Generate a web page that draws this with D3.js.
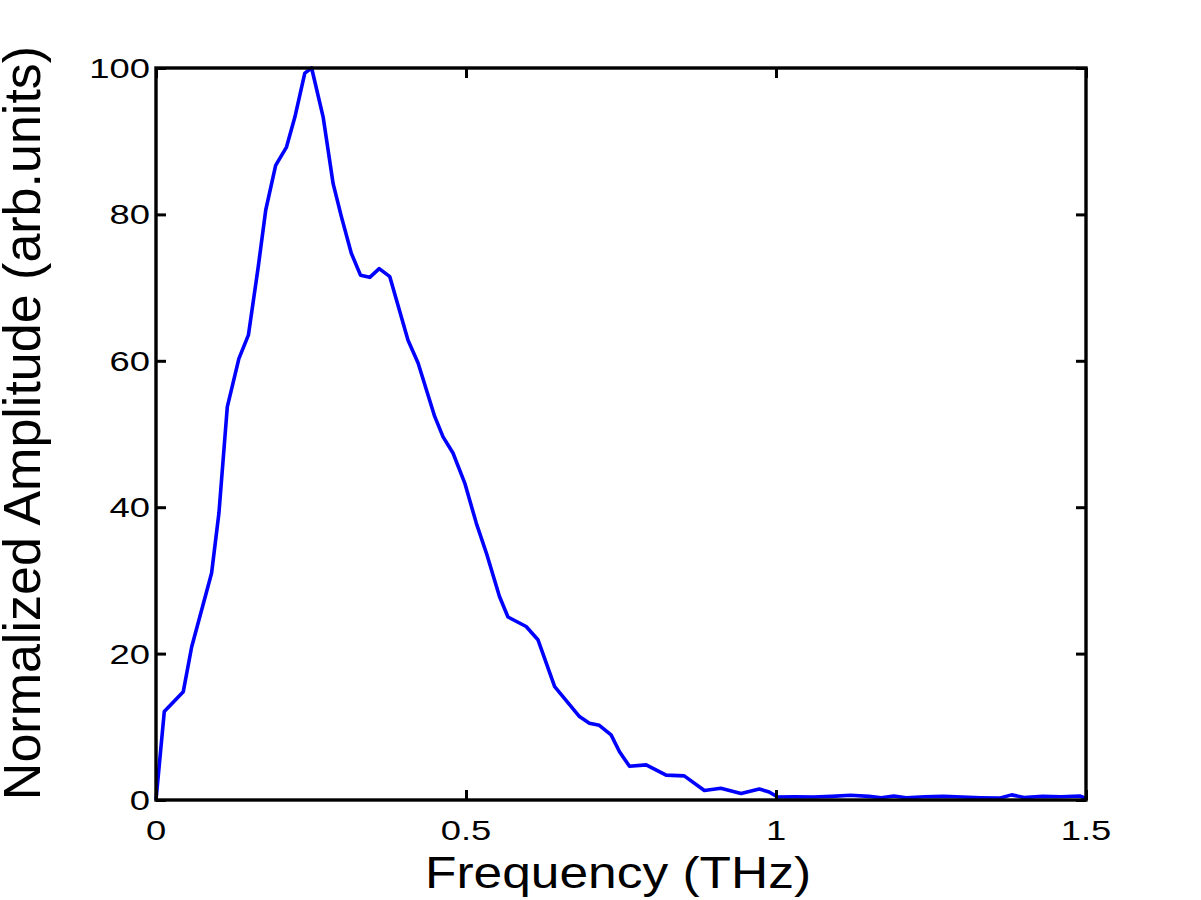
<!DOCTYPE html>
<html>
<head>
<meta charset="utf-8">
<script src="https://cdn.jsdelivr.net/npm/d3@7"></script>
<style>
  html, body { margin: 0; padding: 0; background: #fff; }
  svg { display: block; }
  text { font-family: "Liberation Sans", Arial, Helvetica, sans-serif; fill: #000; }
</style>
</head>
<body>
<svg id="chart" width="1201" height="900"></svg>
<script>
// ---- data ----
const freqTHz = [0, 0.0134, 0.044, 0.0575, 0.0897, 0.1015, 0.115, 0.1337, 0.149, 0.165, 0.177, 0.193, 0.2105, 0.224, 0.240, 0.251,
  0.2696, 0.2857, 0.299, 0.315, 0.3298, 0.3448, 0.36, 0.374, 0.377, 0.4065, 0.4227, 0.4495, 0.463, 0.479, 0.498, 0.5167, 0.533, 0.554,
  0.5677, 0.597, 0.616, 0.643, 0.683, 0.699, 0.715, 0.734, 0.7476, 0.7637, 0.7906, 0.8228, 0.852, 0.8845, 0.911, 0.9436, 0.9731, 0.989,
  1.0026, 1.03, 1.06, 1.09, 1.12, 1.15, 1.17, 1.19, 1.21, 1.24, 1.27, 1.30, 1.33, 1.36, 1.38, 1.40, 1.43, 1.46, 1.49, 1.5];
const amplitude = [0, 12.1, 14.8, 20.9, 31.0, 39.2, 53.7, 60.3, 63.5, 72.9, 80.6, 86.7, 89.2, 93.3, 99.3, 100,
  93.3, 84.2, 79.7, 74.7, 71.7, 71.4, 72.6, 71.7, 71.5, 62.8, 59.7, 52.4, 49.6, 47.4, 43.3, 37.8, 33.7, 27.8,
  25.0, 23.7, 21.9, 15.5, 11.4, 10.5, 10.2, 8.9, 6.6, 4.6, 4.8, 3.4, 3.3, 1.3, 1.6, 0.9, 1.5, 1.1,
  0.4, 0.45, 0.4, 0.5, 0.65, 0.5, 0.3, 0.55, 0.3, 0.45, 0.5, 0.4, 0.3, 0.25, 0.7, 0.35, 0.5, 0.45, 0.55, 0.2];
const xTicks = [0, 0.5, 1, 1.5];
const xTickLabels = ["0", "0.5", "1", "1.5"];
const yTicks = [0, 20, 40, 60, 80, 100];
const yTickLabels = ["0", "20", "40", "60", "80", "100"];
const xTitle = "Frequency (THz)";
const yTitle = "Normalized Amplitude (arb.units)";

// ---- layout ----
const L = 156, R = 1086, T = 68, B = 800;
const SX_TICK = 1.3;   // horizontal stretch of tick text in the reference
const SX_TITLE = 1.17; // horizontal stretch of x title
const svg = d3.select("#chart");
const x = d3.scaleLinear().domain([0, 1.5]).range([L, R]);
const y = d3.scaleLinear().domain([0, 100]).range([B, T]);

// curve
const line = d3.line().x((d, i) => x(freqTHz[i])).y(d => y(d));
svg.append("path")
  .datum(amplitude)
  .attr("d", line)
  .attr("fill", "none")
  .attr("stroke", "#0000ff")
  .attr("stroke-width", 3.6)
  .attr("stroke-linejoin", "round");

// axes (inward ticks, all four sides)
const tickLen = 10;
const axStyle = g => {
  g.select(".domain").remove();
  g.selectAll("line").attr("stroke", "#000").attr("stroke-width", 3);
  g.selectAll("text").remove();
};
svg.append("g").attr("transform", `translate(0,${B})`)
  .call(d3.axisTop(x).tickValues(xTicks).tickSize(tickLen)).call(axStyle);
svg.append("g").attr("transform", `translate(0,${T})`)
  .call(d3.axisBottom(x).tickValues(xTicks).tickSize(tickLen)).call(axStyle);
svg.append("g").attr("transform", `translate(${L},0)`)
  .call(d3.axisRight(y).tickValues(yTicks).tickSize(tickLen)).call(axStyle);
svg.append("g").attr("transform", `translate(${R},0)`)
  .call(d3.axisLeft(y).tickValues(yTicks).tickSize(tickLen)).call(axStyle);

// frame
svg.append("rect")
  .attr("x", L).attr("y", T).attr("width", R - L).attr("height", B - T)
  .attr("fill", "none").attr("stroke", "#000").attr("stroke-width", 3.4);

// tick labels
svg.append("g").selectAll("text").data(xTicks).join("text")
  .attr("transform", d => `translate(${x(d)},${B + 40}) scale(${SX_TICK},1)`)
  .attr("text-anchor", "middle")
  .attr("font-size", 28)
  .text((d, i) => xTickLabels[i]);
svg.append("g").selectAll("text").data(yTicks).join("text")
  .attr("transform", d => `translate(${L - 6},${y(d) + 10}) scale(${SX_TICK},1)`)
  .attr("text-anchor", "end")
  .attr("font-size", 28)
  .text((d, i) => yTickLabels[i]);

// axis titles
svg.append("text")
  .attr("transform", `translate(${(L + R) / 2 - 3},${B + 88}) scale(${SX_TITLE},1)`)
  .attr("text-anchor", "middle")
  .attr("font-size", 44)
  .text(xTitle);
svg.append("text")
  .attr("transform", `translate(40,423) rotate(-90)`)
  .attr("text-anchor", "middle")
  .attr("font-size", 52)
  .text(yTitle);
</script>
</body>
</html>
